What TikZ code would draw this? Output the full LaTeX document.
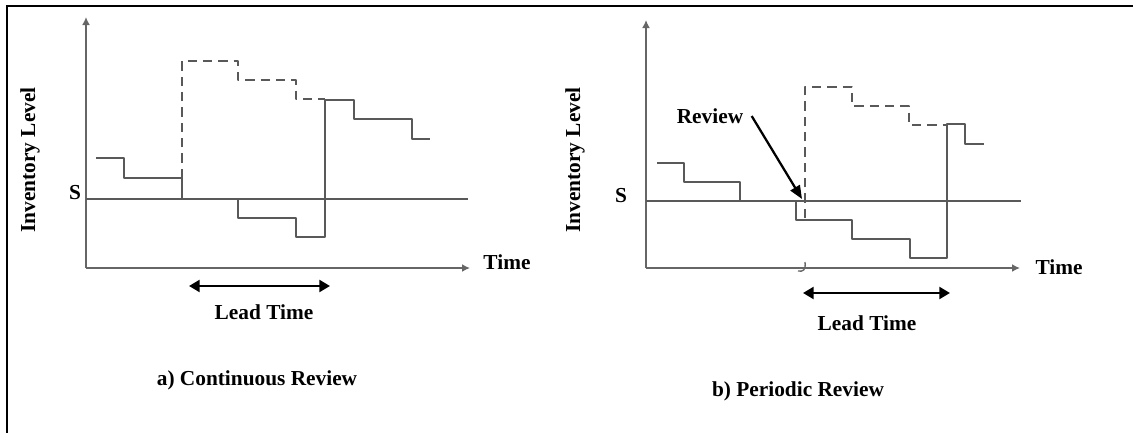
\documentclass[tikz,border=0pt]{standalone}
\usepackage{fontspec}
\setmainfont{Liberation Serif}
\usetikzlibrary{arrows.meta}

\tikzset{every picture/.style={line width=0.75pt}}
\tikzset{
  axis/.style={draw=black!60, line width=2pt, -{Latex[length=6pt,width=6pt]}},
  stair/.style={draw=black!65, line width=2.2pt, line join=round},
  order/.style={stair, dash pattern=on 7pt off 4.5pt},
  span/.style={draw=black, line width=1.7pt, {Triangle[length=8pt,width=9pt]}-{Triangle[length=8pt,width=9pt]}},
  pointer/.style={draw=black, line width=1.7pt, -{Triangle[length=10pt,width=8pt]}},
  lbl/.style={font=\fontsize{16}{19}\selectfont\bfseries, inner sep=0pt},
}

\begin{document}
\begin{tikzpicture}[x=0.75pt,y=0.75pt,yscale=-1,xscale=1]
\useasboundingbox (0,0) rectangle (1133,433);
% frame
\draw [line width=1.5pt] (1133,6) -- (7,6) -- (7,433);

% a) continuous review
\coordinate (oA) at (86,268);
\coordinate (yA) at (86,17);
\coordinate (xA) at (470,268);
\coordinate (s0A) at (86,199);
\coordinate (s1A) at (468,199);
\draw [axis] (oA) -- (yA);
\draw [axis] (oA) -- (xA);
\draw [stair] (s0A) -- (s1A);
\draw [stair] (96,158) -- (124,158) -- (124,178) -- (182,178) -- (182,199) -- (238,199) -- (238,218) -- (296,218) -- (296,237) -- (325,237) -- (325,100) -- (354,100) -- (354,119) -- (412,119) -- (412,139) -- (430,139);
\draw [order] (182,178) -- (182,61) -- (238,61) -- (238,80) -- (296,80) -- (296,99) -- (325,99);
\node [lbl, rotate=90] (invA) at (30,160) {Inventory Level};
\node [lbl] (sLblA) at (75,193) {S};
\node [lbl] (timeA) at (507,262) {Time};
\coordinate (lt0A) at (189,286);
\coordinate (lt1A) at (330,286);
\draw [span] (lt0A) -- (lt1A);
\node [lbl] (leadA) at (264,312) {Lead Time};
\node [lbl] (capA) at (257,380) {a) Continuous Review};

% b) periodic review
\coordinate (oB) at (646,268);
\coordinate (yB) at (646,20);
\coordinate (xB) at (1020,268);
\coordinate (s0B) at (646,201);
\coordinate (s1B) at (1021,201);
\draw [axis] (oB) -- (yB);
\draw [axis] (oB) -- (xB);
\draw [stair] (s0B) -- (s1B);
\draw [stair] (657,163) -- (684,163) -- (684,182) -- (740,182) -- (740,201) -- (796,201) -- (796,220) -- (852,220) -- (852,239) -- (910,239) -- (910,258) -- (947,258) -- (947,124) -- (965,124) -- (965,144) -- (984,144);
\draw [order] (805,218) -- (805,87) -- (852,87) -- (852,106) -- (909,106) -- (909,125) -- (947,125);
\draw [black!60, line width=1pt] (805,262) .. controls (806,270) and (803,272) .. (798,271);
\node [lbl, rotate=90] (invB) at (575,160) {Inventory Level};
\node [lbl] (sLblB) at (621,196) {S};
\node [lbl] (timeB) at (1059,267) {Time};
\node [lbl] (review) at (710,116) {Review};
\coordinate (revTip) at (802,199);
\draw [pointer] ([xshift=6pt]review.east) -- (revTip);
\coordinate (lt0B) at (803,293);
\coordinate (lt1B) at (950,293);
\draw [span] (lt0B) -- (lt1B);
\node [lbl] (leadB) at (867,323) {Lead Time};
\node [lbl] (capB) at (798,391) {b) Periodic Review};
\end{tikzpicture}
\end{document}
